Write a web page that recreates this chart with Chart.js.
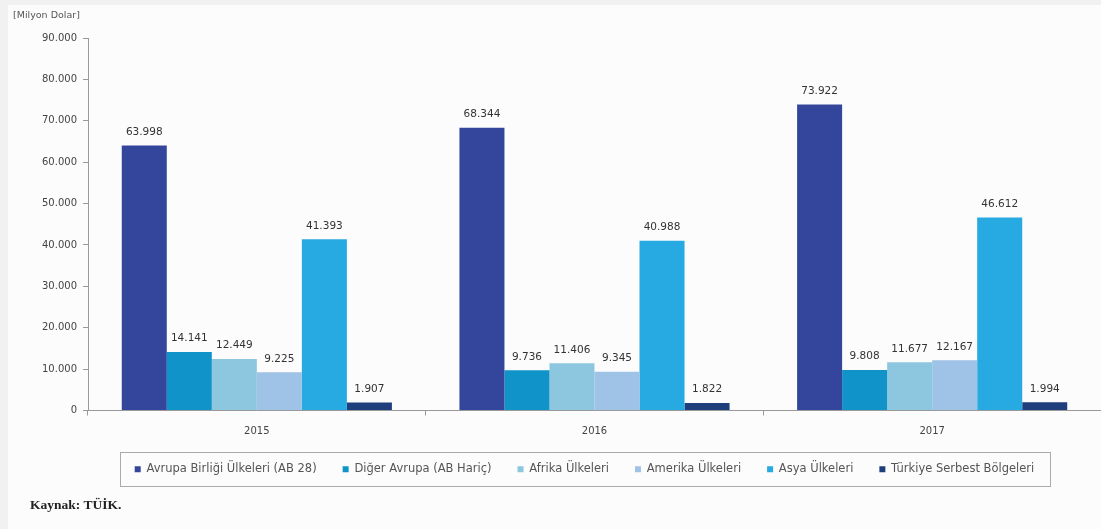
<!DOCTYPE html>
<html>
<head>
<meta charset="utf-8">
<script src="https://cdn.jsdelivr.net/npm/chart.js@4.4.1/dist/chart.umd.min.js"></script>
<style>
  html, body { margin: 0; padding: 0; background: #f1f1f1; }
  #wrap { position: absolute; left: 8px; top: 5px; width: 1093px; height: 524px; background: #fcfcfc; }
  #chart { position: absolute; left: 0; top: 0; }
  #kaynak { position: absolute; left: 22px; top: 492px; font: bold 13.5px "Liberation Serif", serif; color: #222; }
</style>
</head>
<body>
<div id="wrap">
  <canvas id="chart" width="1093" height="524"></canvas>
  <div id="kaynak">Kaynak: TÜİK.</div>
</div>
<script>
// --- DATA ---
const years = ['2015', '2016', '2017'];
const seriesNames = ['Avrupa Birliği Ülkeleri (AB 28)', 'Diğer Avrupa (AB Hariç)', 'Afrika Ülkeleri', 'Amerika Ülkeleri', 'Asya Ülkeleri', 'Türkiye Serbest Bölgeleri'];
const abUlkeleri = [63998, 68344, 73922];
const digerAvrupa = [14141, 9736, 9808];
const afrika = [12449, 11406, 11677];
const amerika = [9225, 9345, 12167];
const asya = [41393, 40988, 46612];
const serbestBolge = [1907, 1822, 1994];
const yTicks = [0, 10000, 20000, 30000, 40000, 50000, 60000, 70000, 80000, 90000];

const colors = ['#33469b', '#0f93c9', '#8dc7df', '#9fc2e7', '#27a9e1', '#1f3e7c'];
const allSeries = [abUlkeleri, digerAvrupa, afrika, amerika, asya, serbestBolge];

const fmt = v => v.toLocaleString('de-DE');
const FONT = '"DejaVu Sans", sans-serif';

// değer etiketleri + başlık + lejant çerçevesi
const extras = {
  id: 'extras',
  afterLayout(chart) {
    const lg = chart.legend;
    const dx = 30;
    lg.left += dx; lg.right += dx;
  },
  afterDatasetsDraw(chart) {
    const ctx = chart.ctx;
    ctx.save();
    ctx.font = '10.5px ' + FONT;
    ctx.fillStyle = '#333';
    ctx.textAlign = 'center';
    ctx.textBaseline = 'bottom';
    chart.data.datasets.forEach((ds, i) => {
      chart.getDatasetMeta(i).data.forEach((bar, j) => {
        ctx.fillText(fmt(ds.data[j]), bar.x, bar.y - 8);
      });
    });
    ctx.font = '9.5px ' + FONT;
    ctx.fillStyle = '#555';
    ctx.textAlign = 'left';
    ctx.textBaseline = 'middle';
    ctx.fillText('[Milyon Dolar]', 5, 11);
    ctx.restore();
  },
  afterDraw(chart) {
    const lg = chart.legend;
    const boxes = lg.legendHitBoxes;
    if (!boxes || !boxes.length) return;
    const l = Math.min(...boxes.map(b => b.left)) - 15;
    const r = Math.max(...boxes.map(b => b.left + b.width)) + 15;
    const cy = boxes[0].top + boxes[0].height / 2;
    const ctx = chart.ctx;
    ctx.save();
    ctx.strokeStyle = '#aaa';
    ctx.lineWidth = 1;
    ctx.strokeRect(Math.round(l) + 0.5, Math.round(cy - 17) + 0.5, Math.round(r - l), 34);
    ctx.restore();
  }
};

new Chart(document.getElementById('chart'), {
  type: 'bar',
  data: {
    labels: years,
    datasets: seriesNames.map((name, i) => ({
      label: name,
      data: allSeries[i],
      backgroundColor: colors[i],
      categoryPercentage: 0.8,
      barPercentage: 1.0
    }))
  },
  options: {
    responsive: false,
    animation: false,
    layout: { padding: { top: 33, left: 0, right: 0, bottom: 44 } },
    plugins: {
      tooltip: { enabled: false },
      legend: {
        position: 'bottom',
        labels: {
          boxWidth: 6, boxHeight: 6, padding: 26,
          color: '#555',
          font: { family: FONT, size: 11.5 }
        }
      }
    },
    scales: {
      x: {
        afterFit(scale) { scale.height = 27; },
        grid: { display: true, drawOnChartArea: false, offset: true, tickLength: 5, color: '#999' },
        border: { color: '#999' },
        ticks: { color: '#444', padding: 10, font: { family: FONT, size: 10 } }
      },
      y: {
        min: 0, max: 90000,
        afterFit(scale) { scale.width = 80; },
        afterBuildTicks(scale) { scale.ticks = yTicks.map(v => ({ value: v })); },
        grid: { display: true, drawOnChartArea: false, tickLength: 5, color: '#999' },
        border: { color: '#999' },
        ticks: { color: '#444', padding: 6, font: { family: FONT, size: 10 }, callback: v => fmt(v) }
      }
    }
  },
  plugins: [extras]
});
</script>
</body>
</html>
